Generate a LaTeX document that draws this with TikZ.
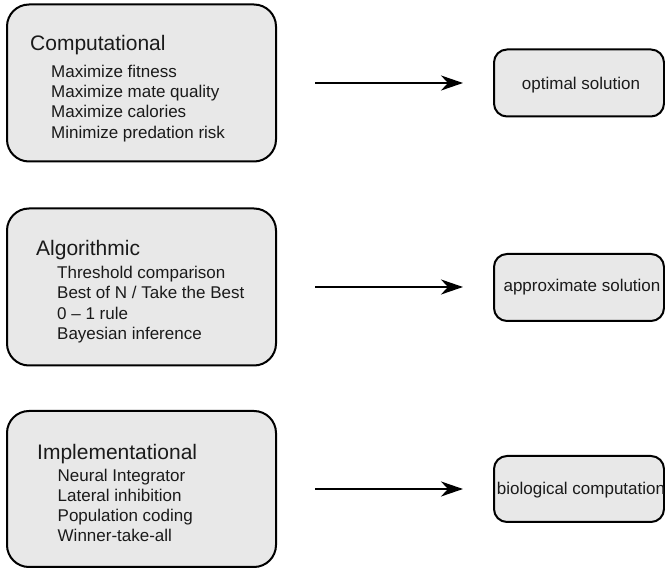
\documentclass[tikz,border=0pt]{standalone}
\usepackage{fontspec}
\setmainfont{Liberation Sans}
\usetikzlibrary{arrows.meta}
\definecolor{boxfill}{HTML}{E8E8E8}
\definecolor{txt}{HTML}{1A1A1A}
\tikzset{
  lbox/.style={draw=black, line width=2pt, fill=boxfill, rounded corners=22pt, inner sep=0pt, minimum width=269pt, minimum height=157pt},
  rbox/.style={draw=black, line width=2pt, fill=boxfill, rounded corners=13pt, inner sep=0pt, minimum width=170pt, minimum height=67pt},
  ttl/.style={anchor=base west, inner sep=0pt, text=txt, font=\fontsize{21}{25}\selectfont},
  itm/.style={anchor=base west, inner sep=0pt, text=txt, font=\fontsize{17}{20}\selectfont},
  rtxt/.style={anchor=base, inner sep=0pt, text=txt, font=\fontsize{17}{20}\selectfont},
  conn/.style={line width=2.6pt, -{Stealth[length=22pt, width=15pt, inset=7pt]}}
}
\begin{document}
\begin{tikzpicture}[x=1pt, y=-1pt]
\useasboundingbox (0,0) rectangle (665,569);
% left boxes
\node[lbox] (comp) at (141.5,83) {};
\node[lbox] (algo) at (141.5,287) {};
\node[lbox, minimum height=156pt] (impl) at (141.5,489) {};
% right boxes
\node[rbox] (opt) at (579,83) {};
\node[rbox] (appr) at (579,287.5) {};
\node[rbox, minimum height=66pt] (bio) at (579,489) {};
% texts box 1
\node[ttl] (t1) at (30,51) {Computational};
\node[itm] (i11) at (51,77.5) {Maximize fitness};
\node[itm] (i12) at (51,98) {Maximize mate quality};
\node[itm] (i13) at (51,118) {Maximize calories};
\node[itm] (i14) at (51,138.5) {Minimize predation risk};
% texts box 2
\node[ttl] (t2) at (36,256) {Algorithmic};
\node[itm] (i21) at (57,278.5) {Threshold comparison};
\node[itm] (i22) at (57,299) {Best of N / Take the Best};
\node[itm] (i23) at (57,319.5) {0 – 1 rule};
\node[itm] (i24) at (57,340) {Bayesian inference};
% texts box 3
\node[ttl] (t3) at (37,460) {Implementational};
\node[itm] (i31) at (57.5,482) {Neural Integrator};
\node[itm] (i32) at (57.5,502) {Lateral inhibition};
\node[itm] (i33) at (57.5,522) {Population coding};
\node[itm] (i34) at (57.5,542) {Winner-take-all};
% right texts
\node[rtxt] (r1) at (581,90) {optimal solution};
\node[rtxt] (r2) at (582,292) {approximate solution};
\node[rtxt] (r3) at (581,495) {biological computation};
% arrows
\coordinate (a1s) at (315,83);
\coordinate (a1e) at (463,83);
\coordinate (a2s) at (315,287);
\coordinate (a2e) at (463,287);
\coordinate (a3s) at (315,489);
\coordinate (a3e) at (463,489);
\draw[conn] (a1s) -- (a1e);
\draw[conn] (a2s) -- (a2e);
\draw[conn] (a3s) -- (a3e);
\end{tikzpicture}
\end{document}
